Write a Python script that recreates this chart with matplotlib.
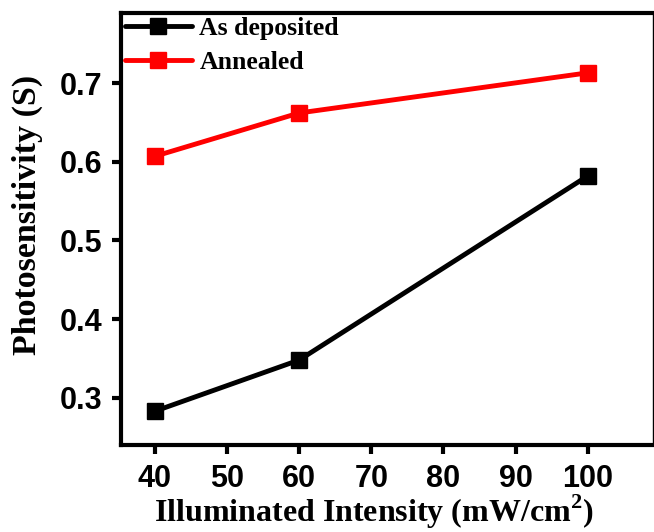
import numpy as np
import matplotlib
matplotlib.use("Agg")
import matplotlib.pyplot as plt

plt.rcParams["mathtext.fontset"] = "custom"
plt.rcParams["mathtext.rm"] = "Liberation Serif:bold"
plt.rcParams["mathtext.bf"] = "Liberation Serif:bold"

# illumination intensity (mW/cm^2) and photosensitivity for both samples
intensity = [40, 60, 100]
as_deposited = [0.283, 0.348, 0.582]
annealed = [0.607, 0.662, 0.713]

series_names = ["As deposited", "Annealed"]
series_colors = ["black", "red"]

x_ticks = [40, 50, 60, 70, 80, 90, 100]
y_ticks = [0.3, 0.4, 0.5, 0.6, 0.7]

serif_bold = dict(family="Liberation Serif", weight="bold")
sans_bold = dict(family="Liberation Sans", weight="bold")

fig = plt.figure(figsize=(6.54, 5.32), dpi=100)
ax = fig.add_axes([0.185, 0.1635, 0.813, 0.812])

for ys, name, col in zip([as_deposited, annealed], series_names, series_colors):
    ax.plot(intensity, ys, color=col, lw=3.5, marker="s", ms=11.5,
            solid_capstyle="round", label=name)

ax.set_xlim(35.3, 109)
ax.set_ylim(0.240, 0.789)
ax.set_xticks(x_ticks)
ax.set_yticks(y_ticks)
ax.set_xticklabels([str(v) for v in x_ticks], fontdict=dict(size=22, **sans_bold))
ax.set_yticklabels(["%.1f" % v for v in y_ticks], fontdict=dict(size=22, **sans_bold))
ax.tick_params(direction="out", length=6.5, width=3, pad=7)

for side in ["left", "top", "bottom"]:
    ax.spines[side].set_linewidth(3)
ax.spines["right"].set_linewidth(1)

ax.set_xlabel("Illuminated Intensity (mW/cm$^{2}$)", fontsize=23, **serif_bold)
ax.set_ylabel("Photosensitivity (S)", fontsize=24.5, **serif_bold)
ax.xaxis.set_label_coords(0.4756, -0.11)
ax.yaxis.set_label_coords(-0.147, 0.532)

leg = ax.legend(loc="upper left", frameon=False, prop=dict(size=18.5, **serif_bold),
                handlelength=2.6, handletextpad=0.3, borderaxespad=0.0,
                borderpad=0.15, labelspacing=0.45)

fig.savefig("out.png", dpi=100)
